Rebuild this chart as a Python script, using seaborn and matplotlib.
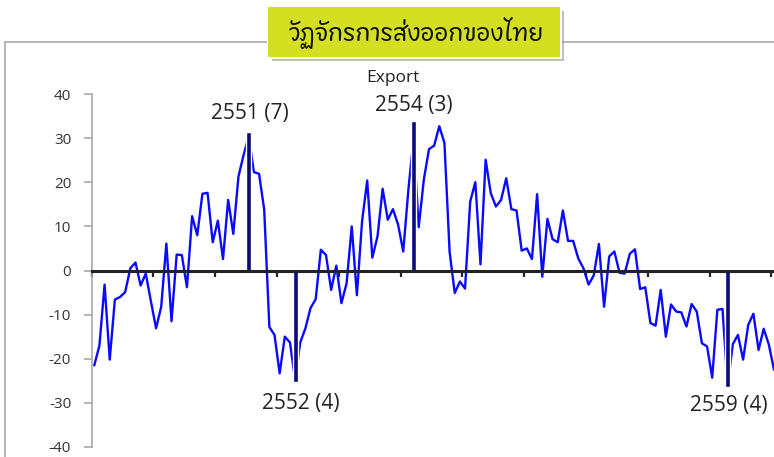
import numpy as np
import pandas as pd
import matplotlib
matplotlib.use("Agg")
import matplotlib.pyplot as plt
import seaborn as sns
from matplotlib.patches import Rectangle
from matplotlib import font_manager as fm
from matplotlib.ft2font import FT2Font

# ---------------- data ----------------
title = "วัฏจักรการส่งออกของไทย"
series_name = "Export"
first_year = 2549
n_years = 11
export_growth = [
    -21.5, -17.0, -3.2, -20.2, -6.6, -6.0, -4.9, 0.5, 1.8, -3.4, -0.7, -7.0,
    -13.1, -8.2, 6.1, -11.5, 3.6, 3.5, -3.8, 12.3, 8.0, 17.4, 17.6, 6.4,
    11.3, 2.6, 16.0, 8.3, 21.3, 26.2, 30.5, 22.3, 21.9, 13.8, -12.8, -14.6,
    -23.3, -15.0, -16.3, -24.8, -16.3, -13.1, -8.5, -6.5, 4.7, 3.5, -4.4, 1.1,
    -7.4, -2.9, 10.0, -5.6, 11.1, 20.4, 2.9, 7.7, 18.5, 11.5, 13.9, 10.4,
    4.3, 18.3, 30.0, 9.8, 20.6, 27.5, 28.3, 32.7, 28.9, 4.3, -5.1, -2.5,
    -4.1, 15.6, 20.0, 1.4, 25.1, 17.5, 14.5, 16.0, 20.9, 13.9, 13.6, 4.5,
    5.0, 2.6, 17.3, -1.4, 11.7, 7.1, 6.4, 13.6, 6.7, 6.7, 2.7, 0.5,
    -3.2, -1.1, 6.0, -8.2, 3.2, 4.3, -0.5, -0.7, 3.8, 4.8, -4.2, -3.8,
    -11.9, -12.5, -4.4, -15.0, -7.7, -9.3, -9.5, -12.7, -7.6, -9.3, -16.5, -17.2,
    -24.3, -8.9, -8.7, -26.1, -16.7, -14.6, -20.2, -12.3, -9.8, -18.0, -13.2, -16.8,
    -22.5,
]
turning_months = [30, 39, 62, 123]
turning_values = [31.4, -25.2, 33.8, -26.3]
turning_labels = ["2551 (7)", "2552 (4)", "2554 (3)", "2559 (4)"]
y_ticks = [-40, -30, -20, -10, 0, 10, 20, 30, 40]

# ---------------- fonts ----------------
def find_thai_font():
    best = None
    for f in fm.fontManager.ttflist:
        try:
            cm = FT2Font(f.fname).get_charmap()
        except Exception:
            continue
        if 0x0E27 in cm and 0x0E0F in cm and 0x0E08 in cm:
            if best is None or ("Thai" in f.name and "Looped" not in f.name):
                best = f.name
    return best

thai_family = find_thai_font()

sns.set_style("white")
plt.rcParams["font.family"] = ["Open Sans", "DejaVu Sans"]

W, H = 774, 457
fig = plt.figure(figsize=(W / 100, H / 100), dpi=100)

def fx(px):
    return px / W

def fy(py):
    return 1 - py / H

# outer grey chart frame (cropped at right/bottom)
fig.add_artist(Rectangle((fx(5), -0.2), 1.5, fy(42) + 0.2, transform=fig.transFigure,
                         fill=False, ec="#b5b5b5", lw=1.4, zorder=0))

ax = fig.add_axes([fx(91.7), fy(447), 1 - fx(91.7), fy(94) - fy(447)])
ax.patch.set_alpha(0)

df = pd.DataFrame({"month": np.arange(len(export_growth)), "growth": export_growth})
sns.lineplot(data=df, x="month", y="growth", color="#0a0aff", lw=1.7, ax=ax,
             zorder=3, legend=False)
ax.bar(turning_months, turning_values, width=1.0, color="#0a0a78", zorder=4)

ax.set_xlim(-0.5, 132.0)
ax.set_ylim(-40, 40)
ax.set_yticks(y_ticks)
ax.set_yticklabels([str(v) for v in y_ticks], fontsize=11, color="#333333")
ax.set_xticks(np.arange(-0.5, 12 * n_years + 1, 12))
ax.set_xticklabels([])
ax.set_xlabel("")
ax.set_ylabel("")

for s in ("top", "right"):
    ax.spines[s].set_visible(False)
ax.spines["left"].set_color("#a8a8a8")
ax.spines["left"].set_linewidth(1.2)
ax.spines["bottom"].set_position(("data", 0))
ax.spines["bottom"].set_color("#222222")
ax.spines["bottom"].set_linewidth(2.2)
ax.spines["bottom"].set_zorder(5)
ax.tick_params(axis="y", left=True, direction="out", length=5.8, width=1.2,
               color="#a8a8a8", pad=9)
ax.tick_params(axis="x", bottom=True, direction="out", length=4.5, width=1.6,
               color="#222222")

# annotations
label_fs = 15
fig.text(fx(393), fy(78), series_name, ha="center", va="center", fontsize=12.5, color="#222222")
pos = [(250, 114), (301, 403), (414, 105), (729, 406)]
for (px, py), lab in zip(pos, turning_labels):
    fig.text(fx(px), fy(py), lab, ha="center", va="center", fontsize=label_fs, color="#222222")

# title box with shadow
bx0, by0, bx1, by1 = 268, 7, 560, 57
fig.add_artist(Rectangle((fx(bx0 + 4), fy(by1 + 4)), fx(bx1 - bx0), (by1 - by0) / H,
                         transform=fig.transFigure, fc="#8c8c8c", ec="none", alpha=0.55, zorder=6))
fig.add_artist(Rectangle((fx(bx0 - 1.5), fy(by1 + 1.5)), fx(bx1 - bx0 + 3), (by1 - by0 + 3) / H,
                         transform=fig.transFigure, fc="white", ec="none", zorder=7))
fig.add_artist(Rectangle((fx(bx0), fy(by1)), fx(bx1 - bx0), (by1 - by0) / H,
                         transform=fig.transFigure, fc="#d4df22", ec="none", zorder=8))
tfam = [thai_family, "DejaVu Sans"] if thai_family else ["DejaVu Sans"]
t = fig.text(fx(417), fy(33), title, ha="center", va="center", fontsize=20,
             family=tfam, color="#111111", zorder=9)
fig.canvas.draw()
bb = t.get_window_extent()
if bb.width > 0:
    t.set_fontsize(20 * 255 / bb.width)

fig.savefig("out.png", dpi=100)
